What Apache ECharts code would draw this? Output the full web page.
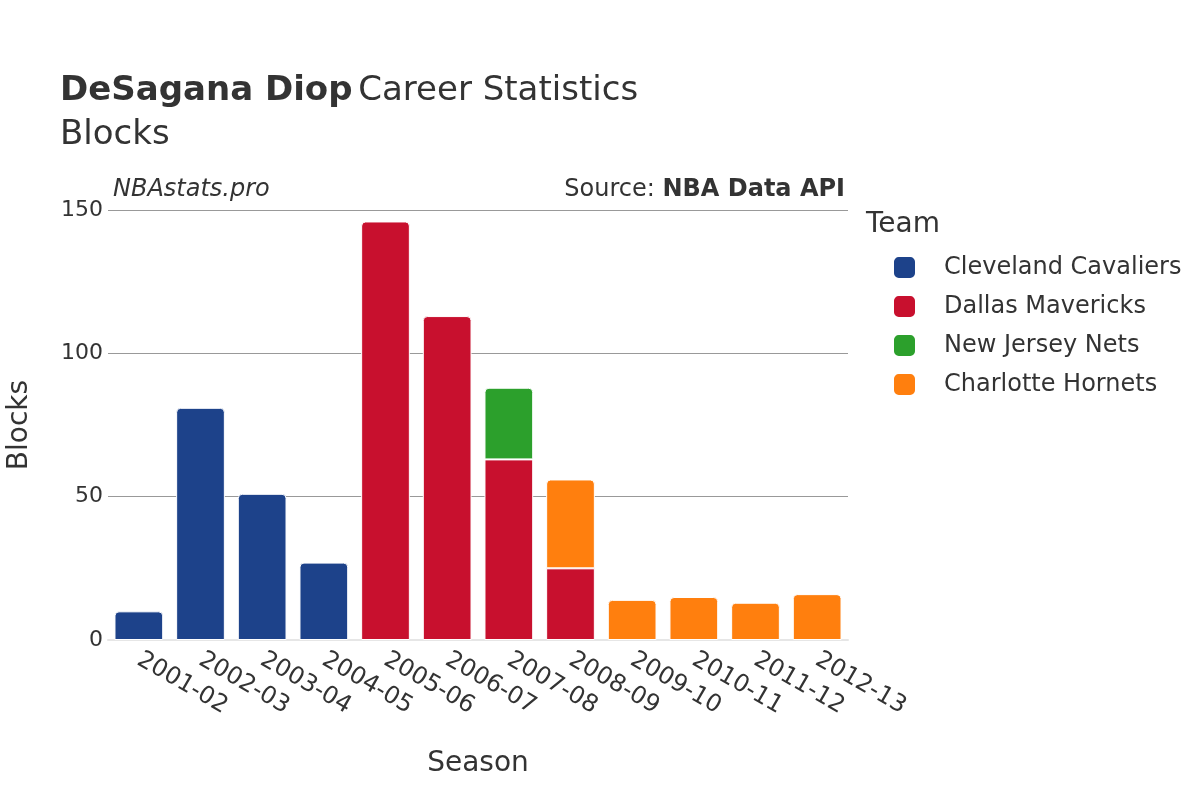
<!DOCTYPE html>
<html>
<head>
<meta charset="utf-8">
<script src="https://cdn.jsdelivr.net/npm/echarts@6/dist/echarts.min.js"></script>
<style>html,body{margin:0;padding:0;background:#fff}#c{width:1200px;height:800px}</style>
</head>
<body>
<div id="c"></div>
<script>
const seasons = ["2001-02","2002-03","2003-04","2004-05","2005-06","2006-07","2007-08","2008-09","2009-10","2010-11","2011-12","2012-13"];
const teams = ["Cleveland Cavaliers","Dallas Mavericks","New Jersey Nets","Charlotte Hornets"];
const colors = ["#1D428A","#C8102E","#2CA02C","#FF7F0E"];
const cleveland = [10,81,51,27,null,null,null,null,null,null,null,null];
const dallas    = [null,null,null,null,146,113,63,25,null,null,null,null];
const newJersey = [null,null,null,null,null,null,25,null,null,null,null,null];
const charlotte = [null,null,null,null,null,null,null,31,14,15,13,16];
const yTicks = [0,50,100,150];

const seriesData = [cleveland, dallas, newJersey, charlotte];
const FONT = "DejaVu Sans";

const topIdx = seasons.map((_, i) => {
  let t = -1;
  seriesData.forEach((d, s) => { if (d[i] != null) t = s; });
  return t;
});

const series = seriesData.map((d, s) => ({
  name: teams[s],
  type: 'bar',
  stack: 'total',
  barCategoryGap: '21%',
  itemStyle: { color: colors[s], borderColor: '#fff', borderWidth: 1 },
  emphasis: { disabled: true },
  data: d.map((v, i) => v == null ? null : {
    value: v,
    itemStyle: { borderRadius: topIdx[i] === s ? [4,4,0,0] : 0 }
  })
}));

const chart = echarts.init(document.getElementById('c'), null, { renderer: 'canvas' });
chart.setOption({
  animation: false,
  backgroundColor: '#fff',
  textStyle: { fontFamily: FONT },
  title: {
    left: 55, top: 64,
    text: '{b|DeSagana Diop} {n|Career Statistics}\n{n|Blocks}',
    textStyle: {
      fontWeight: 'normal',
      rich: {
        b: { fontFamily: FONT, fontSize: 34, fontWeight: 'bold', color: '#333', lineHeight: 44 },
        n: { fontFamily: FONT, fontSize: 34, fontWeight: 'normal', color: '#333', lineHeight: 44 }
      }
    }
  },
  legend: {
    orient: 'vertical',
    left: 887, top: 250,
    itemWidth: 23, itemHeight: 23,
    itemGap: 14,
    icon: 'roundRect',
    textStyle: { fontFamily: FONT, fontSize: 24, color: '#333', padding: [0,0,0,23] },
    data: teams
  },
  grid: { left: 108, right: 352, top: 210, bottom: 160, containLabel: false, outerBoundsMode: 'none' },
  xAxis: {
    type: 'category',
    data: seasons,
    name: 'Season',
    nameLocation: 'middle',
    nameGap: 110,
    nameTextStyle: { fontFamily: FONT, fontSize: 28, color: '#333' },
    axisLine: { show: true, lineStyle: { color: '#e6e6e6', width: 2 } },
    axisTick: { show: false },
    axisLabel: { interval: 0, rotate: -30, fontFamily: FONT, fontSize: 24, color: '#333', margin: 18, hideOverlap: false }
  },
  yAxis: {
    type: 'value',
    min: 0, max: 150, interval: 50,
    name: 'Blocks',
    nameLocation: 'middle',
    nameGap: 74,
    nameTextStyle: { fontFamily: FONT, fontSize: 28, color: '#333' },
    axisLine: { show: false },
    axisTick: { show: false },
    axisLabel: { fontFamily: FONT, fontSize: 22, color: '#333', margin: 5,
      formatter: v => yTicks.includes(v) ? String(v) : '' },
    splitLine: { lineStyle: { color: '#999', width: 1 } }
  },
  graphic: [
    { type: 'text', left: 113, top: 178, style: { text: 'NBAstats.pro', fontFamily: FONT, fontSize: 24, fontStyle: 'italic', fill: '#333' } },
    { type: 'text', right: 355, top: 178, style: { text: '{n|Source: }{b|NBA Data API}', rich: {
      n: { fontFamily: FONT, fontSize: 24, fill: '#333', color: '#333' },
      b: { fontFamily: FONT, fontSize: 24, fontWeight: 'bold', fill: '#333', color: '#333' } } } },
    { type: 'text', left: 866, top: 211, style: { text: 'Team', fontFamily: FONT, fontSize: 28, fill: '#333' } }
  ],
  series: series
});
</script>
</body>
</html>
